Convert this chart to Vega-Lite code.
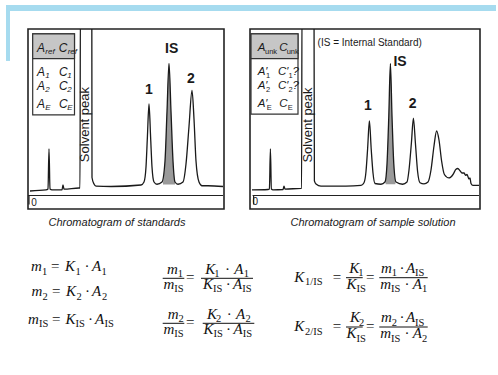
{
  "$schema": "https://vega.github.io/schema/vega-lite/v6.json",
  "padding": {"left": 5, "top": 4, "right": 3, "bottom": 5},
  "background": "white",
  "spacing": 22,
  "config": {"view": {"stroke": null}},
  "datasets": {
    "decoA": [
      {"t": -1.1, "t2": 23.4, "s": 123, "s2": 127},
      {"t": -1.1, "t2": -0.9, "s": 89.7, "s2": 123}
    ],
    "traceA": [
      {"t": 0.1, "s": 3}, {"t": 0.9, "s": 3.7}, {"t": 1.0, "s": 4.3}, {"t": 1.05, "s": 31}, {"t": 1.1, "s": 4.3},
      {"t": 1.2, "s": 3.7}, {"t": 1.7, "s": 3.7}, {"t": 1.75, "s": 7}, {"t": 1.8, "s": 4.3}, {"t": 2.55, "s": 5},
      {"t": 2.6, "s": 5}, {"t": 2.62, "s": 130}, {"t": 3.19, "s": 130}, {"t": 3.2, "s": 12}, {"t": 3.3, "s": 7.7},
      {"t": 3.4, "s": 6.3}, {"t": 4.15, "s": 6}, {"t": 5.65, "s": 7}, {"t": 5.8, "s": 9}, {"t": 5.9, "s": 19},
      {"t": 5.97, "s": 39}, {"t": 6.05, "s": 61}, {"t": 6.13, "s": 39}, {"t": 6.2, "s": 19}, {"t": 6.3, "s": 9},
      {"t": 6.45, "s": 7.5}, {"t": 6.7, "s": 9}, {"t": 6.85, "s": 23}, {"t": 6.95, "s": 56}, {"t": 7.05, "s": 88},
      {"t": 7.15, "s": 56}, {"t": 7.25, "s": 23}, {"t": 7.35, "s": 9}, {"t": 7.5, "s": 7.5}, {"t": 7.75, "s": 9},
      {"t": 7.9, "s": 21}, {"t": 8.05, "s": 46}, {"t": 8.2, "s": 70}, {"t": 8.3, "s": 51}, {"t": 8.4, "s": 23},
      {"t": 8.55, "s": 9}, {"t": 8.7, "s": 6.5}, {"t": 9.0, "s": 6.5}, {"t": 9.75, "s": 6}
    ],
    "isA": [
      {"t": 6.75, "s": 8.5}, {"t": 6.85, "s": 23}, {"t": 6.95, "s": 56}, {"t": 7.05, "s": 88},
      {"t": 7.15, "s": 56}, {"t": 7.25, "s": 23}, {"t": 7.35, "s": 9}
    ],
    "traceB": [
      {"t": 0.1, "s": 3.7}, {"t": 0.9, "s": 4}, {"t": 0.97, "s": 4.3}, {"t": 1.02, "s": 31}, {"t": 1.07, "s": 4.3},
      {"t": 1.15, "s": 3.7}, {"t": 1.65, "s": 4}, {"t": 1.7, "s": 6.3}, {"t": 1.75, "s": 4.3}, {"t": 2.55, "s": 4.7},
      {"t": 2.58, "s": 4.7}, {"t": 2.6, "s": 130}, {"t": 3.2, "s": 130}, {"t": 3.22, "s": 9.7}, {"t": 3.3, "s": 7.7},
      {"t": 3.55, "s": 6.3}, {"t": 4.8, "s": 6.3}, {"t": 5.55, "s": 6.7}, {"t": 5.7, "s": 8.5}, {"t": 5.8, "s": 16},
      {"t": 5.88, "s": 31}, {"t": 5.97, "s": 49.7}, {"t": 6.06, "s": 31}, {"t": 6.15, "s": 15}, {"t": 6.25, "s": 8},
      {"t": 6.55, "s": 7.5}, {"t": 6.75, "s": 9}, {"t": 6.85, "s": 21}, {"t": 6.94, "s": 53}, {"t": 7.02, "s": 88},
      {"t": 7.1, "s": 53}, {"t": 7.19, "s": 21}, {"t": 7.3, "s": 9}, {"t": 7.63, "s": 7.5}, {"t": 7.85, "s": 9},
      {"t": 7.95, "s": 17}, {"t": 8.07, "s": 35}, {"t": 8.17, "s": 51.5}, {"t": 8.27, "s": 35}, {"t": 8.38, "s": 16},
      {"t": 8.5, "s": 8.5}, {"t": 8.7, "s": 7.7}, {"t": 8.9, "s": 9}, {"t": 9.05, "s": 17}, {"t": 9.2, "s": 33},
      {"t": 9.33, "s": 43}, {"t": 9.45, "s": 37}, {"t": 9.58, "s": 23}, {"t": 9.72, "s": 14}, {"t": 9.95, "s": 11.7},
      {"t": 10.15, "s": 14}, {"t": 10.3, "s": 17.5}, {"t": 10.39, "s": 18}, {"t": 10.5, "s": 16.5}, {"t": 10.6, "s": 15},
      {"t": 10.7, "s": 15}, {"t": 10.78, "s": 13.5}, {"t": 10.85, "s": 14}, {"t": 10.95, "s": 11}, {"t": 11.0, "s": 11.7},
      {"t": 11.05, "s": 8}, {"t": 11.15, "s": 6.7}, {"t": 11.45, "s": 6.7}
    ],
    "isB": [
      {"t": 6.78, "s": 10}, {"t": 6.85, "s": 21}, {"t": 6.94, "s": 53}, {"t": 7.02, "s": 88},
      {"t": 7.1, "s": 53}, {"t": 7.19, "s": 21}, {"t": 7.27, "s": 10}
    ],
    "boxA": [{"t": 0.235, "t2": 2.325, "s": 53.7, "s2": 107.7}],
    "headA": [{"t": 0.235, "t2": 2.325, "s": 91.3, "s2": 107.7}],
    "boxB": [{"t": 0.05, "t2": 2.4, "s": 54.3, "s2": 107.7}],
    "headB": [{"t": 0.05, "t2": 2.4, "s": 91.3, "s2": 107.7}],
    "axisA": [
      {"t": 0.0, "t2": 9.75, "s": 0, "s2": 0},
      {"t": 0.05, "t2": 0.05, "s": 0, "s2": -6}
    ],
    "axisB": [
      {"t": 0.13, "t2": 11.45, "s": 0, "s2": 0},
      {"t": 0.18, "t2": 0.18, "s": 0, "s2": -6}
    ],
    "textA": [
      {"t": 6.05, "s": 70.3, "text": "1", "k": "pk"},
      {"t": 7.18, "s": 97.7, "text": "IS", "k": "pk"},
      {"t": 8.15, "s": 77.7, "text": "2", "k": "pk"},
      {"t": 2.87, "s": 47.3, "text": "Solvent peak", "k": "sv"},
      {"t": 4.45, "s": -18.3, "text": "Chromatogram of standards", "k": "cap"},
      {"t": 0.3, "s": -4.7, "text": "0", "k": "zero"},
      {"t": 0.45, "s": 98.3, "text": "A", "k": "lg"},
      {"t": 1.535, "s": 98.3, "text": "C", "k": "lg"},
      {"t": 0.45, "s": 82.3, "text": "A", "k": "lg"},
      {"t": 1.55, "s": 82.3, "text": "C", "k": "lg"},
      {"t": 0.45, "s": 72.7, "text": "A", "k": "lg"},
      {"t": 1.55, "s": 72.7, "text": "C", "k": "lg"},
      {"t": 0.45, "s": 61.3, "text": "A", "k": "lg"},
      {"t": 1.55, "s": 61.3, "text": "C", "k": "lg"},
      {"t": 0.865, "s": 98.3, "text": "ref", "k": "ls"},
      {"t": 1.985, "s": 98.3, "text": "ref", "k": "ls"},
      {"t": 0.865, "s": 82.3, "text": "1", "k": "ls"},
      {"t": 1.965, "s": 82.3, "text": "1", "k": "ls"},
      {"t": 0.865, "s": 72.7, "text": "2", "k": "ls"},
      {"t": 1.965, "s": 72.7, "text": "2", "k": "ls"},
      {"t": 0.865, "s": 61.3, "text": "E", "k": "ls"},
      {"t": 1.965, "s": 61.3, "text": "E", "k": "ls"}
    ],
    "textB": [
      {"t": 5.9, "s": 59.7, "text": "1", "k": "pk"},
      {"t": 7.5, "s": 89.2, "text": "IS", "k": "pk"},
      {"t": 8.13, "s": 61.2, "text": "2", "k": "pk"},
      {"t": 2.92, "s": 47, "text": "Solvent peak", "k": "sv"},
      {"t": 6.15, "s": -18.3, "text": "Chromatogram of sample solution", "k": "cap"},
      {"t": 0.27, "s": -4.3, "text": "0", "k": "zero"},
      {"t": 3.38, "s": 102, "text": "(IS = Internal Standard)", "k": "note"},
      {"t": 0.385, "s": 98.3, "text": "A", "k": "lg"},
      {"t": 1.465, "s": 98.3, "text": "C", "k": "lg"},
      {"t": 0.385, "s": 82.5, "text": "A′", "k": "lg"},
      {"t": 1.4, "s": 82.5, "text": "C′", "k": "lg"},
      {"t": 2.13, "s": 82.5, "text": "?", "k": "lg"},
      {"t": 0.385, "s": 72.8, "text": "A′", "k": "lg"},
      {"t": 1.4, "s": 72.8, "text": "C′", "k": "lg"},
      {"t": 2.13, "s": 72.8, "text": "?", "k": "lg"},
      {"t": 0.385, "s": 61.3, "text": "A′", "k": "lg"},
      {"t": 1.465, "s": 61.3, "text": "C", "k": "lg"},
      {"t": 0.75, "s": 98.3, "text": "unk", "k": "ls"},
      {"t": 1.835, "s": 98.3, "text": "unk", "k": "ls"},
      {"t": 0.8, "s": 82.5, "text": "1", "k": "ls"},
      {"t": 1.93, "s": 82.5, "text": "1", "k": "ls"},
      {"t": 0.8, "s": 72.8, "text": "2", "k": "ls"},
      {"t": 1.93, "s": 72.8, "text": "2", "k": "ls"},
      {"t": 0.835, "s": 61.3, "text": "E", "k": "ls"},
      {"t": 1.885, "s": 61.3, "text": "E", "k": "ls"}
    ],
    "fracs": [
      {"x": 13.47, "x2": 15.63, "y": 2.73},
      {"x": 17.3, "x2": 22.5, "y": 2.73},
      {"x": 13.47, "x2": 15.63, "y": 7.23},
      {"x": 17.47, "x2": 22.63, "y": 7.23},
      {"x": 31.8, "x2": 33.47, "y": 2.67},
      {"x": 35.13, "x2": 39.97, "y": 2.67},
      {"x": 31.8, "x2": 33.47, "y": 7.6},
      {"x": 35.13, "x2": 39.97, "y": 7.6}
    ],
    "eq": [
      {"x": 0.3, "y": 2.0, "text": "m", "k": "v"}, {"x": 1.4, "y": 2.0, "text": "1", "k": "s"},
      {"x": 2.3, "y": 2.0, "text": "=", "k": "o"}, {"x": 3.7, "y": 2.0, "text": "K", "k": "v"},
      {"x": 4.75, "y": 2.0, "text": "1", "k": "s"}, {"x": 5.65, "y": 2.0, "text": "·", "k": "o"},
      {"x": 6.4, "y": 2.0, "text": "A", "k": "v"}, {"x": 7.35, "y": 2.0, "text": "1", "k": "s"},

      {"x": 0.35, "y": 4.5, "text": "m", "k": "v"}, {"x": 1.45, "y": 4.5, "text": "2", "k": "s"},
      {"x": 2.4, "y": 4.5, "text": "=", "k": "o"}, {"x": 3.8, "y": 4.5, "text": "K", "k": "v"},
      {"x": 4.85, "y": 4.5, "text": "2", "k": "s"}, {"x": 5.7, "y": 4.5, "text": "·", "k": "o"},
      {"x": 6.4, "y": 4.5, "text": "A", "k": "v"}, {"x": 7.4, "y": 4.5, "text": "2", "k": "s"},

      {"x": 0.0, "y": 7.25, "text": "m", "k": "v"}, {"x": 1.1, "y": 7.25, "text": "IS", "k": "s"},
      {"x": 2.4, "y": 7.25, "text": "=", "k": "o"}, {"x": 3.75, "y": 7.25, "text": "K", "k": "v"},
      {"x": 4.75, "y": 7.25, "text": "IS", "k": "s"}, {"x": 6.0, "y": 7.25, "text": "·", "k": "o"},
      {"x": 6.7, "y": 7.25, "text": "A", "k": "v"}, {"x": 7.65, "y": 7.25, "text": "IS", "k": "s"},

      {"x": 13.9, "y": 2.25, "text": "m", "k": "v"}, {"x": 14.98, "y": 2.25, "text": "1", "k": "s"},
      {"x": 13.55, "y": 3.75, "text": "m", "k": "v"}, {"x": 14.63, "y": 3.75, "text": "IS", "k": "s"},
      {"x": 15.8, "y": 3.1, "text": "=", "k": "o"},
      {"x": 17.73, "y": 2.25, "text": "K", "k": "v"}, {"x": 18.63, "y": 2.25, "text": "1", "k": "s"},
      {"x": 19.7, "y": 2.25, "text": "·", "k": "o"}, {"x": 20.63, "y": 2.25, "text": "A", "k": "v"},
      {"x": 21.57, "y": 2.25, "text": "1", "k": "s"},
      {"x": 17.5, "y": 3.75, "text": "K", "k": "v"}, {"x": 18.5, "y": 3.75, "text": "IS", "k": "s"},
      {"x": 19.78, "y": 3.75, "text": "·", "k": "o"}, {"x": 20.5, "y": 3.75, "text": "A", "k": "v"},
      {"x": 21.42, "y": 3.75, "text": "IS", "k": "s"},

      {"x": 13.97, "y": 6.75, "text": "m", "k": "v"}, {"x": 15.05, "y": 6.75, "text": "2", "k": "s"},
      {"x": 13.55, "y": 8.25, "text": "m", "k": "v"}, {"x": 14.63, "y": 8.25, "text": "IS", "k": "s"},
      {"x": 15.8, "y": 7.6, "text": "=", "k": "o"},
      {"x": 17.9, "y": 6.75, "text": "K", "k": "v"}, {"x": 18.8, "y": 6.75, "text": "2", "k": "s"},
      {"x": 19.87, "y": 6.75, "text": "·", "k": "o"}, {"x": 20.8, "y": 6.75, "text": "A", "k": "v"},
      {"x": 21.75, "y": 6.75, "text": "2", "k": "s"},
      {"x": 17.55, "y": 8.25, "text": "K", "k": "v"}, {"x": 18.55, "y": 8.25, "text": "IS", "k": "s"},
      {"x": 19.8, "y": 8.25, "text": "·", "k": "o"}, {"x": 20.55, "y": 8.25, "text": "A", "k": "v"},
      {"x": 21.47, "y": 8.25, "text": "IS", "k": "s"},

      {"x": 26.63, "y": 3.07, "text": "K", "k": "v"}, {"x": 27.7, "y": 3.07, "text": "1/IS", "k": "s"},
      {"x": 30.47, "y": 3.1, "text": "=", "k": "o"},
      {"x": 32.13, "y": 2.17, "text": "K", "k": "v"}, {"x": 33.03, "y": 2.17, "text": "1", "k": "s"},
      {"x": 31.85, "y": 3.77, "text": "K", "k": "v"}, {"x": 32.85, "y": 3.77, "text": "IS", "k": "s"},
      {"x": 33.8, "y": 3.1, "text": "=", "k": "o"},
      {"x": 35.3, "y": 2.17, "text": "m", "k": "v"}, {"x": 36.38, "y": 2.17, "text": "1", "k": "s"},
      {"x": 37.16, "y": 2.17, "text": "·", "k": "o"}, {"x": 37.8, "y": 2.17, "text": "A", "k": "v"},
      {"x": 38.7, "y": 2.17, "text": "IS", "k": "s"},
      {"x": 35.23, "y": 3.77, "text": "m", "k": "v"}, {"x": 36.3, "y": 3.77, "text": "IS", "k": "s"},
      {"x": 37.66, "y": 3.77, "text": "·", "k": "o"}, {"x": 38.47, "y": 3.77, "text": "A", "k": "v"},
      {"x": 39.4, "y": 3.77, "text": "1", "k": "s"},

      {"x": 26.63, "y": 8.0, "text": "K", "k": "v"}, {"x": 27.7, "y": 8.0, "text": "2/IS", "k": "s"},
      {"x": 30.47, "y": 8.03, "text": "=", "k": "o"},
      {"x": 32.2, "y": 7.1, "text": "K", "k": "v"}, {"x": 33.1, "y": 7.1, "text": "2", "k": "s"},
      {"x": 31.85, "y": 8.7, "text": "K", "k": "v"}, {"x": 32.85, "y": 8.7, "text": "IS", "k": "s"},
      {"x": 33.8, "y": 8.03, "text": "=", "k": "o"},
      {"x": 35.3, "y": 7.1, "text": "m", "k": "v"}, {"x": 36.38, "y": 7.1, "text": "2", "k": "s"},
      {"x": 37.16, "y": 7.1, "text": "·", "k": "o"}, {"x": 37.8, "y": 7.1, "text": "A", "k": "v"},
      {"x": 38.7, "y": 7.1, "text": "IS", "k": "s"},
      {"x": 35.23, "y": 8.7, "text": "m", "k": "v"}, {"x": 36.3, "y": 8.7, "text": "IS", "k": "s"},
      {"x": 37.66, "y": 8.7, "text": "·", "k": "o"}, {"x": 38.47, "y": 8.7, "text": "A", "k": "v"},
      {"x": 39.4, "y": 8.7, "text": "2", "k": "s"}
    ]
  },
  "vconcat": [
    {
      "hconcat": [
        {
          "width": 196,
          "height": 180,
          "view": {"stroke": "#222", "strokeWidth": 1.6},
          "encoding": {
            "x": {"field": "t", "type": "quantitative", "scale": {"domain": [0, 9.8], "nice": false, "zero": false}, "axis": null},
            "y": {"field": "s", "type": "quantitative", "scale": {"domain": [-9, 111], "nice": false, "zero": false}, "axis": null}
          },
          "layer": [
            {"data": {"name": "decoA"}, "mark": {"type": "rect", "color": "#a6dbef"}, "encoding": {"x2": {"field": "t2"}, "y2": {"field": "s2"}}},
            {"data": {"name": "boxA"}, "mark": {"type": "rect", "fill": "white", "stroke": "#333", "strokeWidth": 1.2}, "encoding": {"x2": {"field": "t2"}, "y2": {"field": "s2"}}},
            {"data": {"name": "headA"}, "mark": {"type": "rect", "fill": "#c6c6c6", "stroke": "#333", "strokeWidth": 1.2}, "encoding": {"x2": {"field": "t2"}, "y2": {"field": "s2"}}},
            {"data": {"name": "axisA"}, "mark": {"type": "rule", "color": "#222", "strokeWidth": 1.2}, "encoding": {"x2": {"field": "t2"}, "y2": {"field": "s2"}}},
            {"data": {"name": "isA"}, "mark": {"type": "area", "color": "#9a9a9a", "interpolate": "monotone"}, "encoding": {"y2": {"datum": 7.3}}},
            {"data": {"name": "traceA"}, "mark": {"type": "line", "color": "#1a1a1a", "strokeWidth": 1.3, "interpolate": "monotone", "clip": true}, "encoding": {}},
            {"data": {"name": "textA"}, "transform": [{"filter": "datum.k === 'pk'"}], "mark": {"type": "text", "font": "Liberation Sans", "fontWeight": "bold", "fontSize": 14, "color": "#1a1a1a"}, "encoding": {"text": {"field": "text"}}},
            {"data": {"name": "textA"}, "transform": [{"filter": "datum.k === 'sv'"}], "mark": {"type": "text", "font": "Liberation Sans", "fontSize": 13, "angle": 270, "color": "#1a1a1a"}, "encoding": {"text": {"field": "text"}}},
            {"data": {"name": "textA"}, "transform": [{"filter": "datum.k === 'cap'"}], "mark": {"type": "text", "font": "Liberation Sans", "fontStyle": "italic", "fontSize": 11, "color": "#1a1a1a"}, "encoding": {"text": {"field": "text"}}},
            {"data": {"name": "textA"}, "transform": [{"filter": "datum.k === 'zero'"}], "mark": {"type": "text", "font": "Liberation Sans", "fontSize": 10, "color": "#1a1a1a"}, "encoding": {"text": {"field": "text"}}},
            {"data": {"name": "textA"}, "transform": [{"filter": "datum.k === 'lg'"}], "mark": {"type": "text", "font": "Liberation Sans", "fontStyle": "italic", "fontSize": 12, "align": "left", "color": "#1a1a1a"}, "encoding": {"text": {"field": "text"}}},
            {"data": {"name": "textA"}, "transform": [{"filter": "datum.k === 'ls'"}], "mark": {"type": "text", "font": "Liberation Sans", "fontStyle": "italic", "fontSize": 8, "align": "left", "dy": 4, "color": "#1a1a1a"}, "encoding": {"text": {"field": "text"}}}
          ]
        },
        {
          "width": 230,
          "height": 180,
          "view": {"stroke": "#222", "strokeWidth": 1.6},
          "encoding": {
            "x": {"field": "t", "type": "quantitative", "scale": {"domain": [0, 11.5], "nice": false, "zero": false}, "axis": null},
            "y": {"field": "s", "type": "quantitative", "scale": {"domain": [-9, 111], "nice": false, "zero": false}, "axis": null}
          },
          "layer": [
            {"data": {"name": "boxB"}, "mark": {"type": "rect", "fill": "white", "stroke": "#333", "strokeWidth": 1.2}, "encoding": {"x2": {"field": "t2"}, "y2": {"field": "s2"}}},
            {"data": {"name": "headB"}, "mark": {"type": "rect", "fill": "#c6c6c6", "stroke": "#333", "strokeWidth": 1.2}, "encoding": {"x2": {"field": "t2"}, "y2": {"field": "s2"}}},
            {"data": {"name": "axisB"}, "mark": {"type": "rule", "color": "#222", "strokeWidth": 1.2}, "encoding": {"x2": {"field": "t2"}, "y2": {"field": "s2"}}},
            {"data": {"name": "isB"}, "mark": {"type": "area", "color": "#9a9a9a", "interpolate": "monotone"}, "encoding": {"y2": {"datum": 7.5}}},
            {"data": {"name": "traceB"}, "mark": {"type": "line", "color": "#1a1a1a", "strokeWidth": 1.3, "interpolate": "monotone", "clip": true}, "encoding": {}},
            {"data": {"name": "textB"}, "transform": [{"filter": "datum.k === 'pk'"}], "mark": {"type": "text", "font": "Liberation Sans", "fontWeight": "bold", "fontSize": 14, "color": "#1a1a1a"}, "encoding": {"text": {"field": "text"}}},
            {"data": {"name": "textB"}, "transform": [{"filter": "datum.k === 'sv'"}], "mark": {"type": "text", "font": "Liberation Sans", "fontSize": 13, "angle": 270, "color": "#1a1a1a"}, "encoding": {"text": {"field": "text"}}},
            {"data": {"name": "textB"}, "transform": [{"filter": "datum.k === 'cap'"}], "mark": {"type": "text", "font": "Liberation Sans", "fontStyle": "italic", "fontSize": 11, "color": "#1a1a1a"}, "encoding": {"text": {"field": "text"}}},
            {"data": {"name": "textB"}, "transform": [{"filter": "datum.k === 'zero'"}], "mark": {"type": "text", "font": "Liberation Sans", "fontSize": 10, "color": "#1a1a1a"}, "encoding": {"text": {"field": "text"}}},
            {"data": {"name": "textB"}, "transform": [{"filter": "datum.k === 'note'"}], "mark": {"type": "text", "font": "Liberation Sans", "fontSize": 10, "align": "left", "color": "#1a1a1a"}, "encoding": {"text": {"field": "text"}}},
            {"data": {"name": "textB"}, "transform": [{"filter": "datum.k === 'lg'"}], "mark": {"type": "text", "font": "Liberation Sans", "fontStyle": "italic", "fontSize": 11.5, "align": "left", "color": "#1a1a1a"}, "encoding": {"text": {"field": "text"}}},
            {"data": {"name": "textB"}, "transform": [{"filter": "datum.k === 'ls'"}], "mark": {"type": "text", "font": "Liberation Sans", "fontSize": 7.5, "align": "left", "dy": 4, "color": "#1a1a1a"}, "encoding": {"text": {"field": "text"}}}
          ]
        }
      ],
      "spacing": 26,
      "bounds": "flush"
    },
    {
      "width": 450,
      "height": 95,
      "view": {"stroke": null},
      "encoding": {
        "x": {"field": "x", "type": "quantitative", "scale": {"domain": [0, 45], "nice": false, "zero": false}, "axis": null},
        "y": {"field": "y", "type": "quantitative", "scale": {"domain": [0, 9.5], "reverse": true, "nice": false, "zero": false}, "axis": null}
      },
      "layer": [
        {"data": {"name": "fracs"}, "mark": {"type": "rule", "color": "#111", "strokeWidth": 1}, "encoding": {"x2": {"field": "x2"}}},
        {"data": {"name": "eq"}, "transform": [{"filter": "datum.k === 'v'"}], "mark": {"type": "text", "font": "Liberation Serif", "fontStyle": "italic", "fontSize": 15, "align": "left", "baseline": "alphabetic", "color": "#111"}, "encoding": {"text": {"field": "text"}}},
        {"data": {"name": "eq"}, "transform": [{"filter": "datum.k === 'o'"}], "mark": {"type": "text", "font": "Liberation Serif", "fontSize": 15, "align": "left", "baseline": "alphabetic", "color": "#111"}, "encoding": {"text": {"field": "text"}}},
        {"data": {"name": "eq"}, "transform": [{"filter": "datum.k === 's'"}], "mark": {"type": "text", "font": "Liberation Serif", "fontSize": 10.5, "align": "left", "baseline": "alphabetic", "dy": 3.5, "color": "#111"}, "encoding": {"text": {"field": "text"}}}
      ]
    }
  ]
}
